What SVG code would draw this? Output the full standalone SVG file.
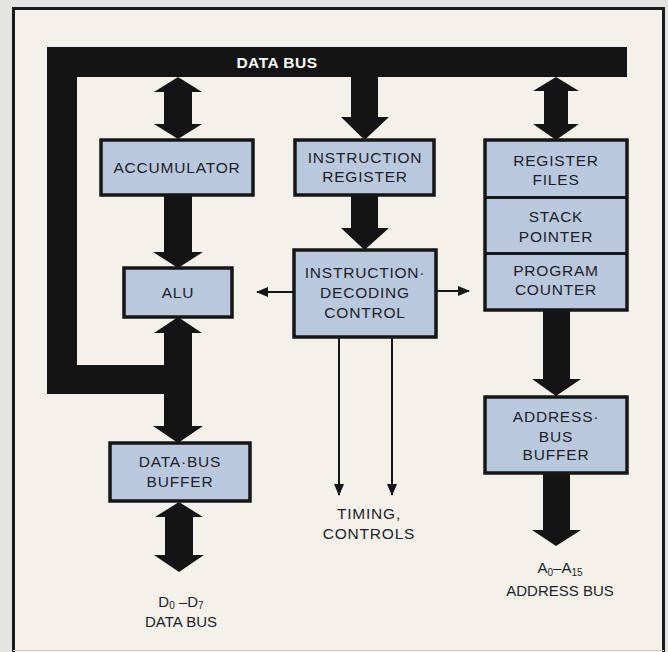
<svg xmlns="http://www.w3.org/2000/svg" width="668" height="652" viewBox="0 0 668 652">
<defs>
<style>
.box{fill:#b9c8dd;stroke:#161616;stroke-width:3.5}
.div{stroke:#161616;stroke-width:3}
.lbl{font-family:"Liberation Sans",Arial,sans-serif;font-size:15.5px;letter-spacing:0.8px;fill:#1c1e2a;text-anchor:middle}
.cap{font-family:"Liberation Sans",Arial,sans-serif;font-size:15px;fill:#1c1e2a;text-anchor:middle}
.bus{fill:#141414}
.thin{stroke:#161616;stroke-width:2;fill:none}
</style>
<marker id="ah" viewBox="0 0 12 10" refX="11" refY="5" markerWidth="12" markerHeight="10" markerUnits="userSpaceOnUse" orient="auto">
<path d="M0,0 L12,5 L0,10 Z" fill="#161616"/>
</marker>
</defs>
<rect x="0" y="0" width="668" height="652" fill="#e3e3df"/>
<rect x="13" y="8" width="651" height="644" fill="#f3f1ea"/>
<path d="M13.5,652 V8.5 H663.5 V652" fill="none" stroke="#1a1a1a" stroke-width="3"/>
<line x1="13" y1="650.5" x2="664" y2="650.5" stroke="#cfcdc6" stroke-width="1"/>

<g id="connectors">
<path class="bus" d="M47,47 H627 V77 H77 V365 H164 V394 H47 Z"/>
<text x="277" y="68" font-family="'Liberation Sans',Arial,sans-serif" font-size="15.5" font-weight="bold" fill="#ffffff" text-anchor="middle" letter-spacing="0.5">DATA BUS</text>
<polygon class="bus" points="178,77 202,92 192,92 192,124 202,124 178,139 154,124 164,124 164,92 154,92"/>
<polygon class="bus" points="164,195 192,195 192,252 203,252 178,268 153,252 164,252"/>
<polygon class="bus" points="178,317 202,333 192,333 192,426 203,426 178,443 153,426 164,426 164,333 154,333"/>
<polygon class="bus" points="179,502 203,517 193,517 193,555 204,555 179,572 154,555 165,555 165,517 155,517"/>
<polygon class="bus" points="351,77 378,77 378,117 389,117 364.5,140 341,117 351,117"/>
<polygon class="bus" points="351,195 378,195 378,228 389,228 364.5,250 341,228 351,228"/>
<polygon class="bus" points="556,77 579,91 568,91 568,124 579,124 556,140 533,124 544,124 544,91 533,91"/>
<polygon class="bus" points="543,310 570,310 570,379 581,379 556,396 532,379 543,379"/>
<polygon class="bus" points="543,473 570,473 570,530 581,530 556,546 532,530 543,530"/>
<line class="thin" x1="294" y1="292" x2="257" y2="292" marker-end="url(#ah)"/>
<line class="thin" x1="436" y1="291" x2="469" y2="291" marker-end="url(#ah)"/>
<line class="thin" x1="339" y1="337" x2="339" y2="495" marker-end="url(#ah)"/>
<line class="thin" x1="392" y1="337" x2="392" y2="495" marker-end="url(#ah)"/>
</g>

<g id="accumulator">
<rect class="box" x="101" y="140" width="152" height="55"/>
<text class="lbl" x="177" y="173">ACCUMULATOR</text>
</g>
<g id="alu">
<rect class="box" x="124" y="268" width="108" height="49"/>
<text class="lbl" x="178" y="298">ALU</text>
</g>
<g id="data-bus-buffer">
<rect class="box" x="110" y="443" width="140" height="58"/>
<text class="lbl" x="180" y="467">DATA·BUS</text>
<text class="lbl" x="180" y="487">BUFFER</text>
</g>
<g id="instruction-register">
<rect class="box" x="295" y="140" width="139" height="55"/>
<text class="lbl" x="365" y="163">INSTRUCTION</text>
<text class="lbl" x="365" y="182">REGISTER</text>
</g>
<g id="instruction-decoding-control">
<rect class="box" x="294" y="250" width="142" height="87"/>
<text class="lbl" x="365" y="278">INSTRUCTION·</text>
<text class="lbl" x="365" y="298">DECODING</text>
<text class="lbl" x="365" y="318">CONTROL</text>
</g>
<g id="register-stack">
<rect class="box" x="485" y="140" width="142" height="170"/>
<line class="div" x1="485" y1="197.5" x2="627" y2="197.5"/>
<line class="div" x1="485" y1="253.5" x2="627" y2="253.5"/>
<text class="lbl" x="556" y="166">REGISTER</text>
<text class="lbl" x="556" y="185">FILES</text>
<text class="lbl" x="556" y="222">STACK</text>
<text class="lbl" x="556" y="242">POINTER</text>
<text class="lbl" x="556" y="276">PROGRAM</text>
<text class="lbl" x="556" y="295">COUNTER</text>
</g>
<g id="address-bus-buffer">
<rect class="box" x="485" y="397" width="142" height="76"/>
<text class="lbl" x="556" y="422">ADDRESS·</text>
<text class="lbl" x="556" y="442">BUS</text>
<text class="lbl" x="556" y="460">BUFFER</text>
</g>
<g id="timing-label">
<text class="lbl" x="369" y="519">TIMING,</text>
<text class="lbl" x="369" y="539">CONTROLS</text>
</g>
<g id="data-bus-label">
<text class="cap" x="181" y="607">D<tspan font-size="10" dy="2">0</tspan><tspan dy="-2"> –D</tspan><tspan font-size="10" dy="2">7</tspan></text>
<text class="cap" x="181" y="627">DATA BUS</text>
</g>
<g id="address-bus-label">
<text class="cap" x="560" y="573">A<tspan font-size="10" dy="3">0</tspan><tspan dy="-3">–A</tspan><tspan font-size="10" dy="3">15</tspan></text>
<text class="cap" x="560" y="596">ADDRESS BUS</text>
</g>
</svg>
